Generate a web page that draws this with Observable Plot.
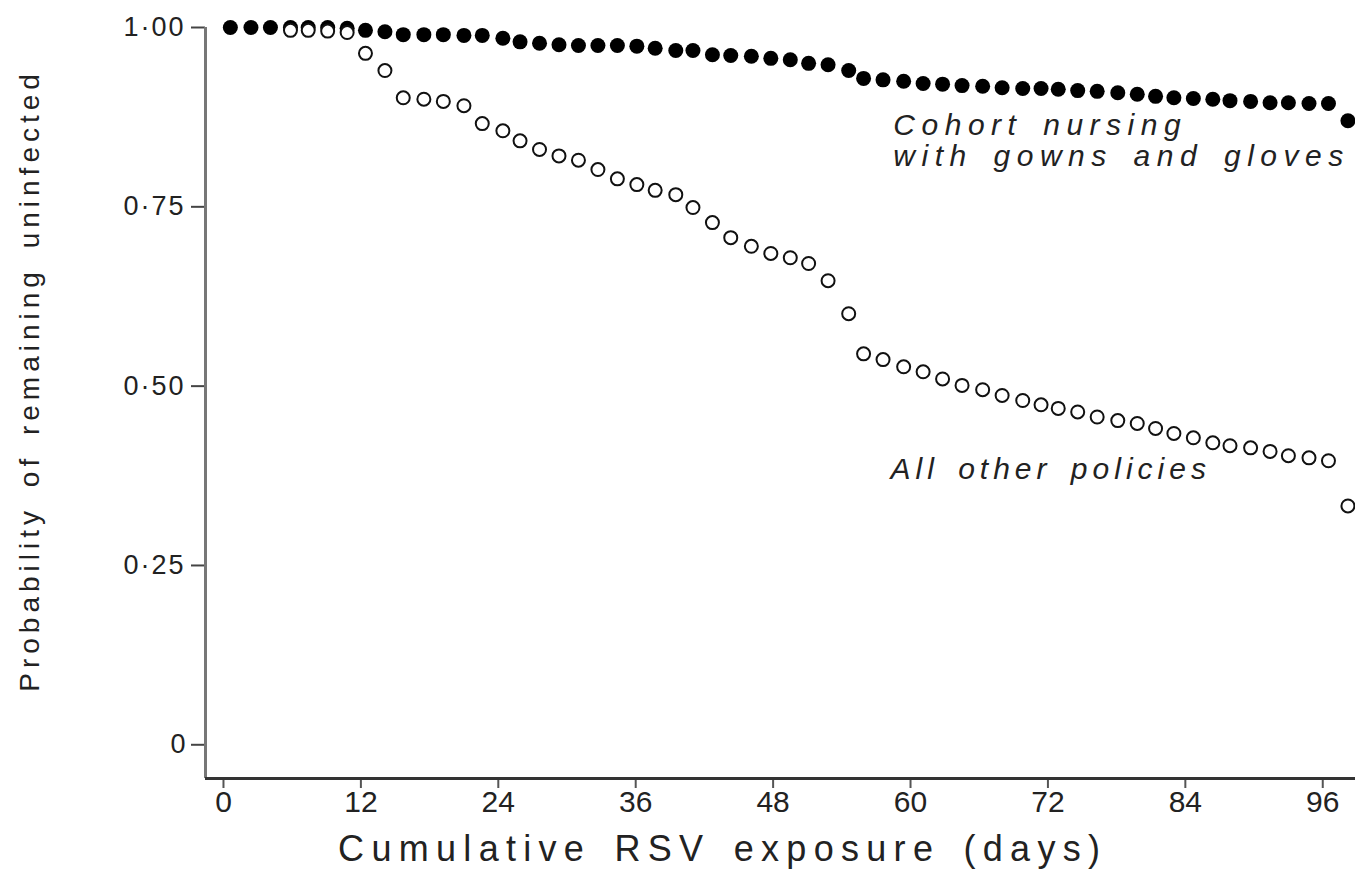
<!DOCTYPE html>
<html><head><meta charset="utf-8">
<script src="https://cdn.jsdelivr.net/npm/d3@7"></script>
<script src="https://cdn.jsdelivr.net/npm/@observablehq/plot@0.6"></script>
<style>body{margin:0;background:#fff} #chart svg{display:block}</style>
</head><body><div id="chart"></div>
<script>
// Cumulative RSV exposure (days) at each plotted point
const days = [0.6, 2.4, 4.1, 5.85, 7.4, 9.1, 10.8, 12.4, 14.1, 15.7, 17.5, 19.2, 21.0, 22.6, 24.4, 25.9, 27.6, 29.3, 31.0, 32.7, 34.4, 36.1, 37.7, 39.5, 41.0, 42.7, 44.3, 46.1, 47.8, 49.5, 51.1, 52.8, 54.6, 55.9, 57.6, 59.4, 61.1, 62.8, 64.5, 66.3, 68.0, 69.8, 71.4, 72.9, 74.6, 76.3, 78.1, 79.8, 81.4, 83.0, 84.7, 86.4, 87.9, 89.7, 91.4, 93.0, 94.8, 96.5, 98.2];
// Cohort nursing with gowns and gloves (filled dots)
const cohortProb = [1.0, 1.0, 1.0, 1.0, 1.0, 1.0, 0.999, 0.996, 0.994, 0.990, 0.990, 0.990, 0.989, 0.989, 0.985, 0.980, 0.978, 0.976, 0.975, 0.975, 0.975, 0.974, 0.971, 0.968, 0.968, 0.962, 0.961, 0.960, 0.957, 0.955, 0.950, 0.948, 0.940, 0.929, 0.927, 0.925, 0.922, 0.921, 0.919, 0.918, 0.916, 0.915, 0.915, 0.914, 0.912, 0.911, 0.909, 0.907, 0.904, 0.902, 0.901, 0.900, 0.898, 0.897, 0.895, 0.895, 0.894, 0.894, 0.870];
// All other policies (open circles); first points hidden under the filled dots
const otherProb = [null, null, null, 0.996, 0.996, 0.995, 0.993, 0.964, 0.940, 0.902, 0.900, 0.897, 0.891, 0.866, 0.856, 0.842, 0.830, 0.821, 0.815, 0.802, 0.789, 0.781, 0.773, 0.767, 0.749, 0.728, 0.707, 0.695, 0.685, 0.679, 0.671, 0.647, 0.601, 0.545, 0.537, 0.527, 0.520, 0.510, 0.501, 0.495, 0.487, 0.480, 0.474, 0.469, 0.464, 0.457, 0.452, 0.448, 0.441, 0.434, 0.428, 0.421, 0.417, 0.414, 0.409, 0.403, 0.400, 0.396, 0.333];

const xTicks = [0, 12, 24, 36, 48, 60, 72, 84, 96];
const yTicks = [0, 0.25, 0.5, 0.75, 1];
const yTickLabels = ["0", "0·25", "0·50", "0·75", "1·00"];
const xTitle = "Cumulative RSV exposure (days)";
const yTitle = "Probability of remaining uninfected";
const noteCohort = "Cohort nursing\nwith gowns and gloves";
const noteOthers = "All other policies";

const cohort = days.map((d, i) => ({day: d, p: cohortProb[i]}));
const others = days.map((d, i) => ({day: d, p: otherProb[i]})).filter(d => d.p != null);

const xDomain = [-1.57, 98.86];
const yDomain = [-0.047, 1.0];
const font = "'Liberation Sans', Arial, Helvetica, sans-serif";

const plot = Plot.plot({
  width: 1355, height: 885,
  marginLeft: 205, marginRight: 0, marginTop: 27, marginBottom: 107,
  style: {fontFamily: font, background: "#fff", color: "#222", overflow: "visible"},
  x: {domain: xDomain},
  y: {domain: yDomain},
  marks: [
    Plot.axisX({ticks: xTicks, tickSize: 10, tickPadding: 2, fontSize: 30, label: null, stroke: "#555", strokeWidth: 2}),
    Plot.axisY({ticks: yTicks, tickSize: 14, tickPadding: 6, fontSize: 27, label: null, stroke: "#444", strokeWidth: 2,
      tickFormat: d => yTickLabels[yTicks.indexOf(d)]}),
    Plot.ruleX([xDomain[0]], {stroke: "#777", strokeWidth: 3}),
    Plot.ruleY([yDomain[0]], {stroke: "#333", strokeWidth: 3}),
    Plot.dot(cohort, {x: "day", y: "p", r: 7.5, fill: "#000", stroke: "none"}),
    Plot.dot(others, {x: "day", y: "p", r: 6.5, fill: "#fff", stroke: "#111", strokeWidth: 2}),
    Plot.text([noteCohort], {x: 58.5, y: 0.8075, text: d => d, textAnchor: "start", lineAnchor: "bottom",
      lineHeight: 1.03, fontSize: 30, fontStyle: "italic", fill: "#222"}),
    Plot.text([noteOthers], {x: 58.25, y: 0.371, text: d => d, textAnchor: "start", lineAnchor: "bottom",
      fontSize: 30, fontStyle: "italic", fill: "#222"}),
    Plot.text([xTitle], {x: 43.6, frameAnchor: "bottom", dy: 82, text: d => d, textAnchor: "middle", lineAnchor: "bottom",
      fontSize: 36, fill: "#222"}),
    Plot.text([yTitle], {frameAnchor: "left", dx: -175, y: 0.508, text: d => d, rotate: -90, textAnchor: "middle",
      lineAnchor: "middle", fontSize: 28, fill: "#222"})
  ]
});

// letter spacing to match the widely spaced lettering of the reference
const spacing = new Map([
  ["Cohort nursing", "6.5px"], ["with gowns and gloves", "6.5px"], [noteOthers, "5px"],
  [xTitle, "7.3px"], [yTitle, "5px"]
]);
d3.select(plot).selectAll("text, tspan").each(function() {
  const t = this.textContent;
  if (spacing.has(t)) {
    this.setAttribute("letter-spacing", spacing.get(t));
    this.setAttribute("word-spacing", "6px");
  } else if (yTickLabels.includes(t) && t !== "0") {
    this.setAttribute("letter-spacing", "2px");
  }
});
document.getElementById("chart").appendChild(plot);
</script>
</body></html>
